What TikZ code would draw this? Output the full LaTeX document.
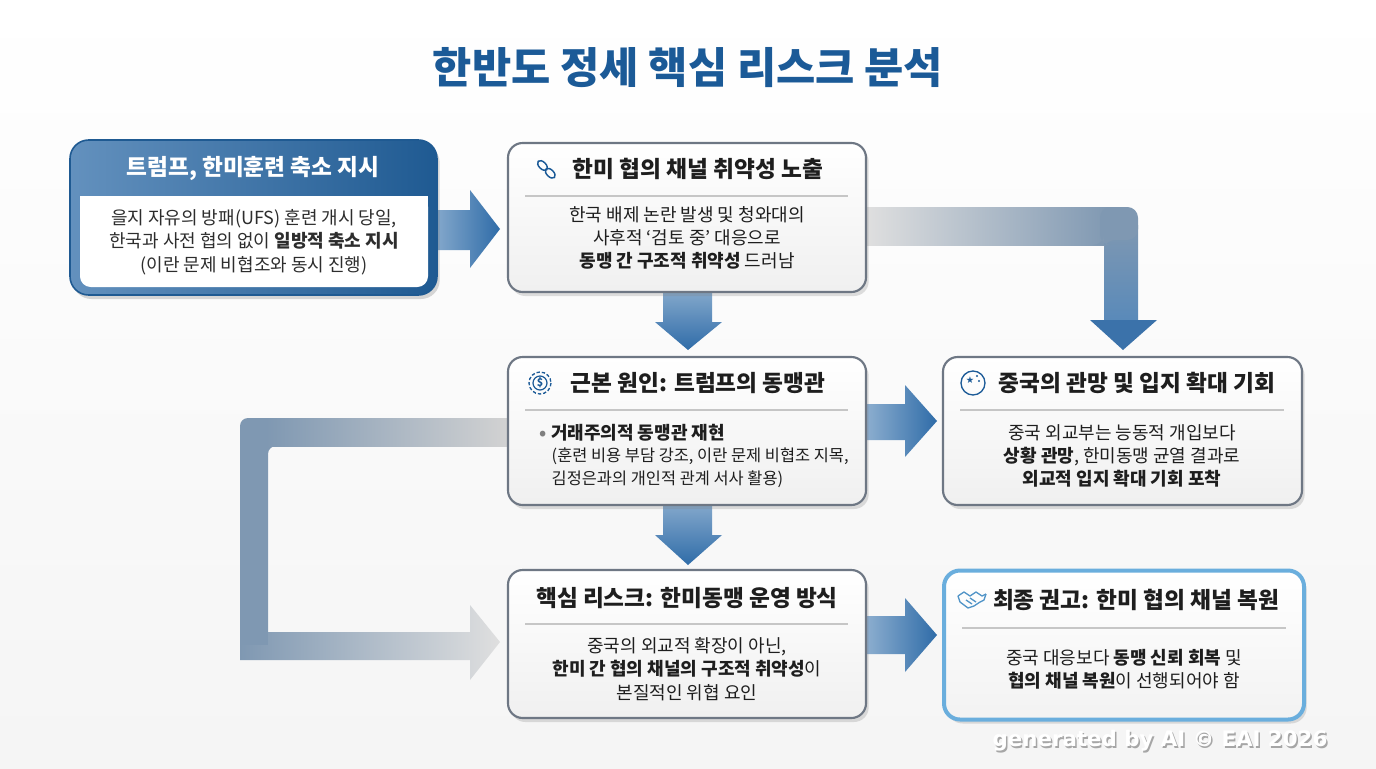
\documentclass[tikz,border=0pt]{standalone}
\usepackage{fontspec}
\setmainfont{Noto Sans CJK KR}
\newfontfamily\dejavu{DejaVu Sans}
\usetikzlibrary{shadows,calc}
\definecolor{navy}{HTML}{1B5A97}
\definecolor{dblue}{HTML}{1F5A92}
\definecolor{bord}{HTML}{6E7784}
\definecolor{arr}{HTML}{2F6CA8}
\definecolor{garr}{HTML}{7F98B2}
\definecolor{lb}{HTML}{6AAEDD}
\definecolor{txt}{HTML}{1E1E1E}
\tikzset{
 box/.style={draw=bord,line width=1.6pt,rounded corners=11pt,top color=white,bottom color=gray!12,drop shadow={opacity=0.25,shadow xshift=2pt,shadow yshift=-3pt}},
 ttl/.style={font=\fontsize{17}{20}\selectfont\bfseries,text=txt,anchor=center},
 body/.style={font=\fontsize{13.5}{17.5}\selectfont,text=txt,align=center,anchor=center},
 sep/.style={draw=gray!45,line width=0.8pt},
}
\begin{document}
\begin{tikzpicture}[x=0.75pt,y=-0.75pt]
\shade[top color=white,bottom color=gray!8] (0,0) rectangle (1376,768);
\useasboundingbox (0,0) rectangle (1376,768);
% title
\node[font=\fontsize{32}{36}\selectfont\bfseries,text=navy] (title) at (688,68) {한반도 정세 핵심 리스크 분석};

% ---- arrows (behind boxes) ----
% loop arrow from box3 left to box5
\path[fill=garr,rounded corners=6pt] (240,418) -- (280,418) -- (280,446) -- (268,446) -- (268,640) -- (240,640) -- cycle;
\shade[left color=garr,right color=gray!25] (240,632) -- (470,632) -- (470,605) -- (500,642) -- (470,680) -- (470,660) -- (240,660) -- cycle;
\fill[garr] (240,620) rectangle (268,645);
\shade[left color=garr,right color=gray!35] (266,418) rectangle (508,446);
% elbow arrow box2 -> box4
\shade[left color=gray!25,right color=garr] (866,207) rectangle (1110,245);
\shade[top color=garr,bottom color=arr!80] (1104,225) rectangle (1138,322);
\path[fill=garr,rounded corners=8pt] (1100,207) -- (1138,207) -- (1138,240) -- (1104,240) -- (1104,245) -- (1100,245) -- cycle;
\fill[arr!85!garr] (1090,320) -- (1157,320) -- (1123,350) -- cycle;

% straight arrows
\shade[left color=arr!60,right color=arr] (437,210) -- (470,210) -- (470,190) -- (500,229) -- (470,268) -- (470,250) -- (437,250) -- cycle;
\shade[top color=arr!60,bottom color=arr] (663,292) -- (712,292) -- (712,322) -- (722,322) -- (688,350) -- (655,322) -- (663,322) -- cycle;
\shade[top color=arr!60,bottom color=arr] (663,505) -- (712,505) -- (712,535) -- (722,535) -- (688,565) -- (655,535) -- (663,535) -- cycle;
\shade[left color=arr!55,right color=arr] (866,404) -- (905,404) -- (905,385) -- (937,421) -- (905,457) -- (905,440) -- (866,440) -- cycle;
\shade[left color=arr!55,right color=arr] (866,616) -- (905,616) -- (905,598) -- (937,635) -- (905,672) -- (905,654) -- (866,654) -- cycle;

% ---- box 1 ----
\node[draw=dblue,line width=1.2pt,rounded corners=14pt,left color=arr!75,right color=dblue,minimum width=367*0.75pt,minimum height=155*0.75pt,drop shadow={opacity=0.3,shadow xshift=2pt,shadow yshift=-3pt}] (b1) at (253.5,217.5) {};
\fill[white,rounded corners=8pt] (80,196) rectangle (428,287);
\fill[white] (80,196) rectangle (428,215);
\node[font=\fontsize{17}{20}\selectfont\bfseries,text=white] (t1) at (253,168) {트럼프, 한미훈련 축소 지시};
\node[body,text=gray!35!black] (x1) at (254,242) {을지 자유의 방패(UFS) 훈련 개시 당일,\\한국과 사전 협의 없이 \textbf{일방적 축소 지시}\\(이란 문제 비협조와 동시 진행)};

% ---- box 2 ----
\node[box,minimum width=358*0.75pt,minimum height=149*0.75pt] (b2) at (687,217.5) {};
\draw[sep] (525,196) -- (848,196);
\node[ttl] (t2) at (698,169) {한미 협의 채널 취약성 노출};
\begin{scope}[shift={(546,169)},rotate=-45,draw=navy,line width=1.1pt]
\draw (-5,0) ellipse (6 and 3.5); \draw (6,0) ellipse (6 and 3.5);
\end{scope}
\node[body] (x2) at (687,238) {한국 배제 논란 발생 및 청와대의\\사후적 ‘검토 중’ 대응으로\\\textbf{동맹 간 구조적 취약성} 드러남};

% ---- box 3 ----
\node[box,minimum width=358*0.75pt,minimum height=148*0.75pt] (b3) at (687,431) {};
\draw[sep] (525,410) -- (848,410);
\node[ttl] (t3) at (698,383) {근본 원인: 트럼프의 동맹관};
\draw[navy,line width=1pt,dash pattern=on 2.5pt off 1.5pt] (540,383) circle (11);
\draw[navy,line width=0.9pt] (540,383) circle (7);
\node[font=\fontsize{8}{8}\selectfont\bfseries,text=navy] at (540,383) {\$};
\node[font=\fontsize{13.5}{17}\selectfont\bfseries,text=txt,anchor=west] (x3a) at (535,433) {\textcolor{gray}{•} 거래주의적 동맹관 재현};
\node[font=\fontsize{12.3}{17.5}\selectfont,text=txt,align=left,anchor=west] (x3b) at (547,468) {(훈련 비용 부담 강조, 이란 문제 비협조 지목,\\김정은과의 개인적 관계 서사 활용)};

% ---- box 4 ----
\node[box,minimum width=359*0.75pt,minimum height=148*0.75pt] (b4) at (1122.5,431) {};
\draw[sep] (960,410) -- (1284,410);
\node[ttl] (t4) at (1137,383) {중국의 관망 및 입지 확대 기회};
\draw[navy,line width=1pt] (973,383) circle (12);
\node[font=\dejavu\fontsize{7}{7}\selectfont,text=navy] at (970,380) {★};
\fill[navy] (977,376) circle (1.2) (979,381) circle (1.2);
\node[body] (x4) at (1122,456) {중국 외교부는 능동적 개입보다\\\textbf{상황 관망}, 한미동맹 균열 결과로\\\textbf{외교적 입지 확대 기회 포착}};

% ---- box 5 ----
\node[box,minimum width=358*0.75pt,minimum height=148*0.75pt] (b5) at (687,644) {};
\draw[sep] (525,624) -- (848,624);
\node[ttl] (t5) at (687,598) {핵심 리스크: 한미동맹 운영 방식};
\node[body] (x5) at (687,669) {중국의 외교적 확장이 아닌,\\\textbf{한미 간 협의 채널의 구조적 취약성}이\\본질적인 위협 요인};

% ---- box 6 ----
\node[draw=lb,line width=3pt,rounded corners=12pt,top color=white,bottom color=gray!10,minimum width=360*0.75pt,minimum height=149*0.75pt,drop shadow={opacity=0.25,shadow xshift=2pt,shadow yshift=-3pt}] (b6) at (1124,645) {};
\draw[sep] (962,628) -- (1286,628);
\node[ttl] (t6) at (1136,600) {최종 권고: 한미 협의 채널 복원};
\begin{scope}[shift={(972,600)},draw=lb!70!navy,line width=1pt,line join=round]
\draw (-14,-4) -- (-8,-8) -- (-2,-4) -- (4,-8) -- (10,-4) -- (14,-6);
\draw (-14,-4) -- (-12,2) -- (-4,8) -- (2,6) -- (8,2) -- (12,0) -- (14,-6);
\draw (-6,0) -- (0,4); \draw (-2,-2) -- (4,2);
\end{scope}
\node[body] (x6) at (1124,669) {중국 대응보다 \textbf{동맹 신뢰 회복} 및\\\textbf{협의 채널 복원}이 선행되어야 함};

% watermark
\node[font=\dejavu\fontsize{16}{16}\selectfont\bfseries,text=gray!70] at (1161.5,742.5) {generated by AI © EAI 2026};
\node[font=\dejavu\fontsize{16}{16}\selectfont\bfseries,text=white] (wm) at (1160,741) {generated by AI © EAI 2026};
\end{tikzpicture}
\end{document}
